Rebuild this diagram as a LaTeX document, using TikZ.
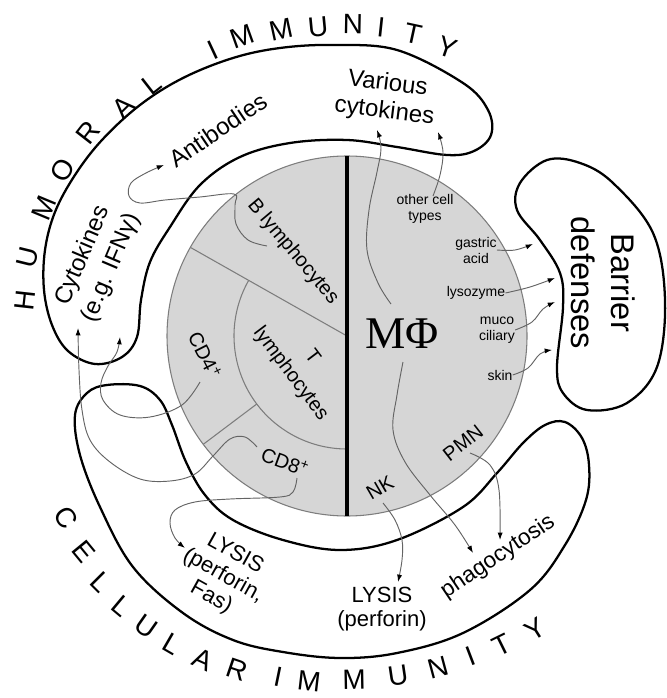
\documentclass[tikz,border=0pt]{standalone}
\usepackage{fontspec}
\setmainfont{Liberation Sans}
\newfontfamily\serifmp{Liberation Serif}
\usetikzlibrary{arrows.meta,calc}
\definecolor{conng}{RGB}{100,100,100}
\definecolor{cellfill}{RGB}{214,214,214}
\definecolor{cellline}{RGB}{125,125,125}
\begin{document}
\begin{tikzpicture}[x=0.75pt,y=-0.75pt,
  band/.style={line width=1.7pt, black},
  inner/.style={draw=cellline, line width=0.8pt},
  conn/.style={draw=conng, line width=0.7pt, -{Latex[length=5.5pt,width=3.8pt,color=black]}},
  arcl/.style={font=\fontsize{21}{21}\selectfont, inner sep=0pt},
  lab/.style={font=\fontsize{18}{21}\selectfont, align=center, inner sep=0pt},
  mid/.style={font=\fontsize{16.5}{18.5}\selectfont, align=center, inner sep=0pt},
  cell/.style={font=\fontsize{15}{19}\selectfont, align=center, inner sep=0pt},
  tiny/.style={font=\fontsize{10.5}{12}\selectfont, align=center, inner sep=0pt}
]
\useasboundingbox (0,0) rectangle (666,698);
\fill[white] (0,0) rectangle (666,698);

% central circle
\coordinate (C) at (347,336);
\filldraw[fill=cellfill, draw=cellline, line width=0.8pt] (C) circle[radius=135pt];
\draw[inner] (C) -- ($(C)+(150.5:135pt)$);
\draw[inner] ([shift={(150.5:84.75pt)}]C) arc[start angle=150.5, end angle=270, radius=84.75pt];
\draw[inner] ($(C)+(217:84.75pt)$) -- ($(C)+(217:135pt)$);
\draw[line width=2.3pt] ($(C)+(90:135pt)$) -- ($(C)+(270:135pt)$);

% outer bands
\draw[band] plot[smooth cycle, tension=0.6] coordinates {(333,45) (397,50) (463,83) (488,110) (491,135) (474,151) (447,155) (397,147) (347,140) (290,143) (240,157) (200,185) (170,227) (150,262) (141,300) (137,337) (122,357) (95,364) (68,351) (52,325) (44,290) (45,250) (55,212) (75,175) (102,140) (140,105) (183,78) (233,58) (280,48)};
\draw[band] plot[smooth cycle, tension=0.6] coordinates {(107,385) (140,386) (160,400) (172,425) (186,462) (205,495) (233,520) (283,540) (340,550) (397,540) (463,507) (497,473) (523,443) (545,425) (565,422) (582,438) (589,465) (586,500) (565,545) (530,590) (463,633) (397,653) (340,658) (283,652) (233,640) (183,613) (133,567) (100,507) (80,455) (75,415) (87,393)};
\draw[band] plot[smooth cycle, tension=0.6] coordinates {(547,160) (520,183) (517,210) (540,240) (560,273) (563,307) (557,367) (563,393) (587,410) (627,403) (657,367) (665,300) (653,233) (613,183) (580,163)};

% labels inside circle
\node[cell, rotate=-50] (bl) at (293,252) {B lymphocytes};
\node[cell, rotate=-53, font=\fontsize{15}{20}\selectfont] (tl) at (301,366) {T\\lymphocytes};
\node[cell, rotate=-63] (cd4) at (205,355) {CD4\textsuperscript{+}};
\node[cell, rotate=-20] (cd8) at (285,462) {CD8\textsuperscript{+}};
\node[inner sep=0pt, font=\serifmp\fontsize{34}{34}\selectfont] (mp) at (402,334) {MΦ};
\node[tiny] (oct) at (425,209) {other cell\\types};
\node[tiny] (ga) at (476,250) {gastric\\acid};
\node[tiny] (ly) at (476,293) {lysozyme};
\node[tiny] (mc) at (497,330) {muco\\ciliary};
\node[tiny] (sk) at (500,375) {skin};
\node[cell, rotate=30] (nk) at (380,488) {NK};
\node[cell, rotate=38] (pmn) at (463,443) {PMN};

% outer labels
\node[lab, rotate=34] (ab) at (218,130) {Antibodies};
\node[lab, rotate=-7] (vc) at (386,98) {Various\\cytokines};
\node[lab, rotate=67, font=\fontsize{18}{23}\selectfont] (cy) at (97,262) {Cytokines\\(e.g. IFNγ)};
\node[mid, rotate=-29] (l1) at (223,576) {LYSIS\\(perforin,\\Fas)};
\node[mid] (l2) at (382,609) {LYSIS\\(perforin)};
\node[lab, rotate=34, font=\fontsize{17}{20}\selectfont] (ph) at (498,557) {phagocytosis};
\node[align=center, inner sep=0pt, rotate=-90, font=\fontsize{24.5}{30}\selectfont] (bd) at (603,283) {Barrier\\defenses};

% HUMORAL IMMUNITY
\node[arcl, rotate=83.6] (h1) at (25,300) {H};
\node[arcl, rotate=76.1] (h2) at (28,257) {U};
\node[arcl, rotate=67.5] (h3) at (44,208) {M};
\node[arcl, rotate=60] (h4) at (63,170) {O};
\node[arcl, rotate=52] (h5) at (88,133) {R};
\node[arcl, rotate=44.4] (h6) at (123,107) {A};
\node[arcl, rotate=37.9] (h7) at (152,84) {L};
\node[arcl, rotate=25] (h8) at (213,50) {I};
\node[arcl, rotate=19.7] (h9) at (242,37) {M};
\node[arcl, rotate=12.3] (h10) at (281,30) {M};
\node[arcl, rotate=5.5] (h11) at (318,27) {U};
\node[arcl, rotate=-1.1] (h12) at (353,24) {N};
\node[arcl, rotate=-6.1] (h13) at (381,27) {I};
\node[arcl, rotate=-12.3] (h14) at (413,34) {T};
\node[arcl, rotate=-19] (h15) at (447,47) {Y};

% CELLULAR IMMUNITY
\node[arcl, rotate=-56.7] (c1) at (66,518) {C};
\node[arcl, rotate=-50.6] (c2) at (84,552) {E};
\node[arcl, rotate=-45] (c3) at (101,582) {L};
\node[arcl, rotate=-39.9] (c4) at (122,606) {L};
\node[arcl, rotate=-35] (c5) at (146,627) {U};
\node[arcl, rotate=-30] (c6) at (172,644) {L};
\node[arcl, rotate=-24.4] (c7) at (203,660) {A};
\node[arcl, rotate=-18.8] (c8) at (237,670) {R};
\node[arcl, rotate=-11.6] (c9) at (278,677) {I};
\node[arcl, rotate=-6.6] (c10) at (309,681) {M};
\node[arcl, rotate=1] (c11) at (354,680) {M};
\node[arcl, rotate=8.4] (c12) at (398,676) {U};
\node[arcl, rotate=15] (c13) at (438,668) {N};
\node[arcl, rotate=20.9] (c14) at (471,656) {I};
\node[arcl, rotate=26.2] (c15) at (502,645) {T};
\node[arcl, rotate=32.3] (c16) at (535,629) {Y};

% connector endpoints
\coordinate (bls) at (267,246);
\coordinate (abe) at (164,165);
\coordinate (cd4s) at (200,382);
\coordinate (cye1) at (120,337);
\coordinate (cd8s) at (257,447);
\coordinate (cye2) at (78,328);
\coordinate (cd8b) at (297,478);
\coordinate (l1e) at (185,548);
\coordinate (mpt) at (391,304);
\coordinate (vce1) at (377,130);
\coordinate (octs) at (433,196);
\coordinate (vce2) at (438,132);
\coordinate (mpb) at (403,362);
\coordinate (phe1) at (473,553);
\coordinate (pmns) at (470,453);
\coordinate (phe2) at (500,540);
\coordinate (nks) at (383,503);
\coordinate (l2e) at (398,582);

% connectors
\draw[conn] plot[smooth, tension=0.6] coordinates {(bls) (248,240) (236,224) (235,205) (234,194) (200,197) (165,200) (140,203) (129,196) (131,183) (146,173) (abe)};
\draw[conn] plot[smooth, tension=0.6] coordinates {(cd4s) (182,405) (150,417) (120,415) (103,400) (101,383) (108,366) (117,352) (cye1)};
\draw[conn] plot[smooth, tension=0.6] coordinates {(cd8s) (245,437) (230,439) (213,456) (195,474) (170,481) (140,479) (110,462) (90,440) (82,410) (79,370) (cye2)};
\draw[conn] plot[smooth, tension=0.6] coordinates {(cd8b) (293,492) (280,497) (230,499) (195,502) (175,510) (170,523) (175,538) (l1e)};
\draw[conn] plot[smooth, tension=0.6] coordinates {(mpt) (378,283) (367,250) (369,210) (377,172) (381,148) (vce1)};
\draw[conn] plot[smooth, tension=0.6] coordinates {(octs) (440,175) (443,152) (vce2)};
\draw[conn] plot[smooth, tension=0.6] coordinates {(mpb) (397,395) (393,430) (405,462) (430,495) (455,525) (phe1)};
\draw[conn] plot[smooth, tension=0.6] coordinates {(pmns) (490,465) (499,490) (phe2)};
\draw[conn] plot[smooth, tension=0.6] coordinates {(nks) (395,520) (402,540) (402,560) (l2e)};
\draw[conn] plot[smooth, tension=0.6] coordinates {(ga.east) (515,250) (533,244)};
\draw[conn] plot[smooth, tension=0.6] coordinates {(ly.east) (530,287) (555,278)};
\draw[conn] plot[smooth, tension=0.6] coordinates {(mc.east) (532,322) (543,309) (555,302)};
\draw[conn] plot[smooth, tension=0.6] coordinates {(sk.east) (528,368) (540,354) (552,350)};
\end{tikzpicture}
\end{document}
